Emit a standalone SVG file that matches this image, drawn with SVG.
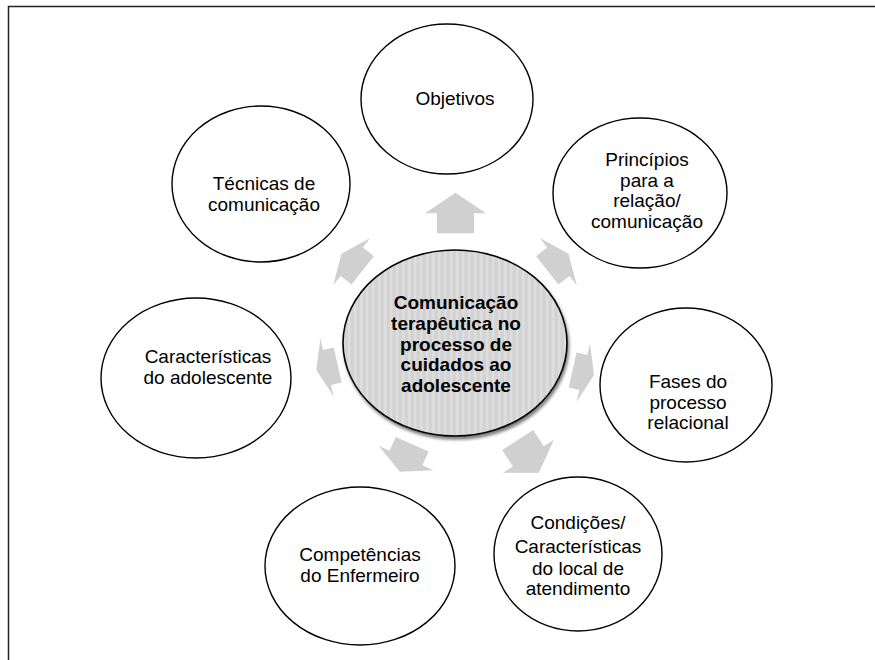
<svg xmlns="http://www.w3.org/2000/svg" width="875" height="660" viewBox="0 0 875 660">
<defs>
<style>
.frame{fill:none;stroke:#222;stroke-width:1.5}
.sat{fill:#fff;stroke:#000;stroke-width:1.4}
.hub{fill:url(#stripes);stroke:#000;stroke-width:1.6}
.arr{fill:#d0d0d0;stroke:none}
.t{font-family:"Liberation Sans",Arial,sans-serif;font-size:19px;fill:#000;text-anchor:middle}
.tb{font-family:"Liberation Sans",Arial,sans-serif;font-size:19px;font-weight:bold;fill:#000;text-anchor:middle}
</style>
<pattern id="stripes" patternUnits="userSpaceOnUse" width="6" height="10">
<rect width="6" height="10" fill="#d3d3d3"/>
<rect x="0" width="2.5" height="10" fill="#dedede"/>
</pattern>
<filter id="shadow" x="-10%" y="-10%" width="125%" height="130%">
<feDropShadow dx="1.5" dy="3" stdDeviation="1.8" flood-color="#000" flood-opacity="0.5"/>
</filter>
</defs>
<rect width="875" height="660" fill="#fff"/>
<path class="frame" d="M8.5,660 V6.5 H875"/>
<g id="connectors">
<polygon class="arr" points="474,233.3 474,213.3 486,213.3 455.5,192.8 425,213.3 437,213.3 437,233.3"/>
<polygon class="arr" points="558.4,284.5 569.4,275.9 576.8,285.3 568.5,253.7 539.8,238.1 547.2,247.6 536.2,256.2"/>
<polygon class="arr" points="568.6,387.6 579.3,390.1 576.7,401.8 594,374.9 590,343.3 587.3,355 576.6,352.5"/>
<polygon class="arr" points="502.2,450 512.8,466.4 502.7,472.9 538.9,472.7 553.9,439.7 543.8,446.2 533.2,429.9"/>
<polygon class="arr" points="395.7,437 389.6,450.7 378.6,445.8 399.9,471.7 433.4,470.2 422.4,465.3 428.5,451.6"/>
<polygon class="arr" points="333.7,347.5 323,350 320.4,338.3 316.3,369.9 333.7,396.8 331,385.1 341.7,382.6"/>
<polygon class="arr" points="351.6,284.5 340.6,275.9 333.2,285.3 341.5,253.7 370.2,238.1 362.8,247.6 373.8,256.2"/>
</g>
<g id="center">
<ellipse class="hub" cx="455" cy="343" rx="112" ry="93" filter="url(#shadow)"/>
<text class="tb"><tspan x="456" y="309.3">Comunicação</tspan><tspan x="456" y="330">terapêutica no</tspan><tspan x="456" y="350.6">processo de</tspan><tspan x="456" y="371.2">cuidados ao</tspan><tspan x="456" y="391.8">adolescente</tspan></text>
</g>
<g id="objetivos">
<ellipse class="sat" cx="447" cy="99" rx="86" ry="75"/>
<text class="t" x="455" y="105">Objetivos</text>
</g>
<g id="principios">
<ellipse class="sat" cx="640" cy="193" rx="87" ry="75"/>
<text class="t"><tspan x="647" y="166">Princípios</tspan><tspan x="647" y="186.5">para a</tspan><tspan x="647" y="207">relação/</tspan><tspan x="647" y="227.5">comunicação</tspan></text>
</g>
<g id="fases">
<ellipse class="sat" cx="686" cy="385" rx="86" ry="77"/>
<text class="t"><tspan x="688" y="388">Fases do</tspan><tspan x="688" y="408.5">processo</tspan><tspan x="688" y="429">relacional</tspan></text>
</g>
<g id="condicoes">
<ellipse class="sat" cx="578" cy="554" rx="84" ry="77"/>
<text class="t"><tspan x="578" y="529">Condições/</tspan><tspan x="578" y="553">Características</tspan><tspan x="578" y="574.5">do local de</tspan><tspan x="578" y="595">atendimento</tspan></text>
</g>
<g id="competencias">
<ellipse class="sat" cx="360" cy="566" rx="95" ry="79"/>
<text class="t"><tspan x="360" y="561">Competências</tspan><tspan x="360" y="582">do Enfermeiro</tspan></text>
</g>
<g id="caracteristicas">
<ellipse class="sat" cx="196" cy="378" rx="95" ry="80"/>
<text class="t"><tspan x="208" y="363">Características</tspan><tspan x="208" y="384">do adolescente</tspan></text>
</g>
<g id="tecnicas">
<ellipse class="sat" cx="261" cy="184" rx="89" ry="78"/>
<text class="t"><tspan x="264" y="190">Técnicas de</tspan><tspan x="264" y="210.5">comunicação</tspan></text>
</g>
</svg>
